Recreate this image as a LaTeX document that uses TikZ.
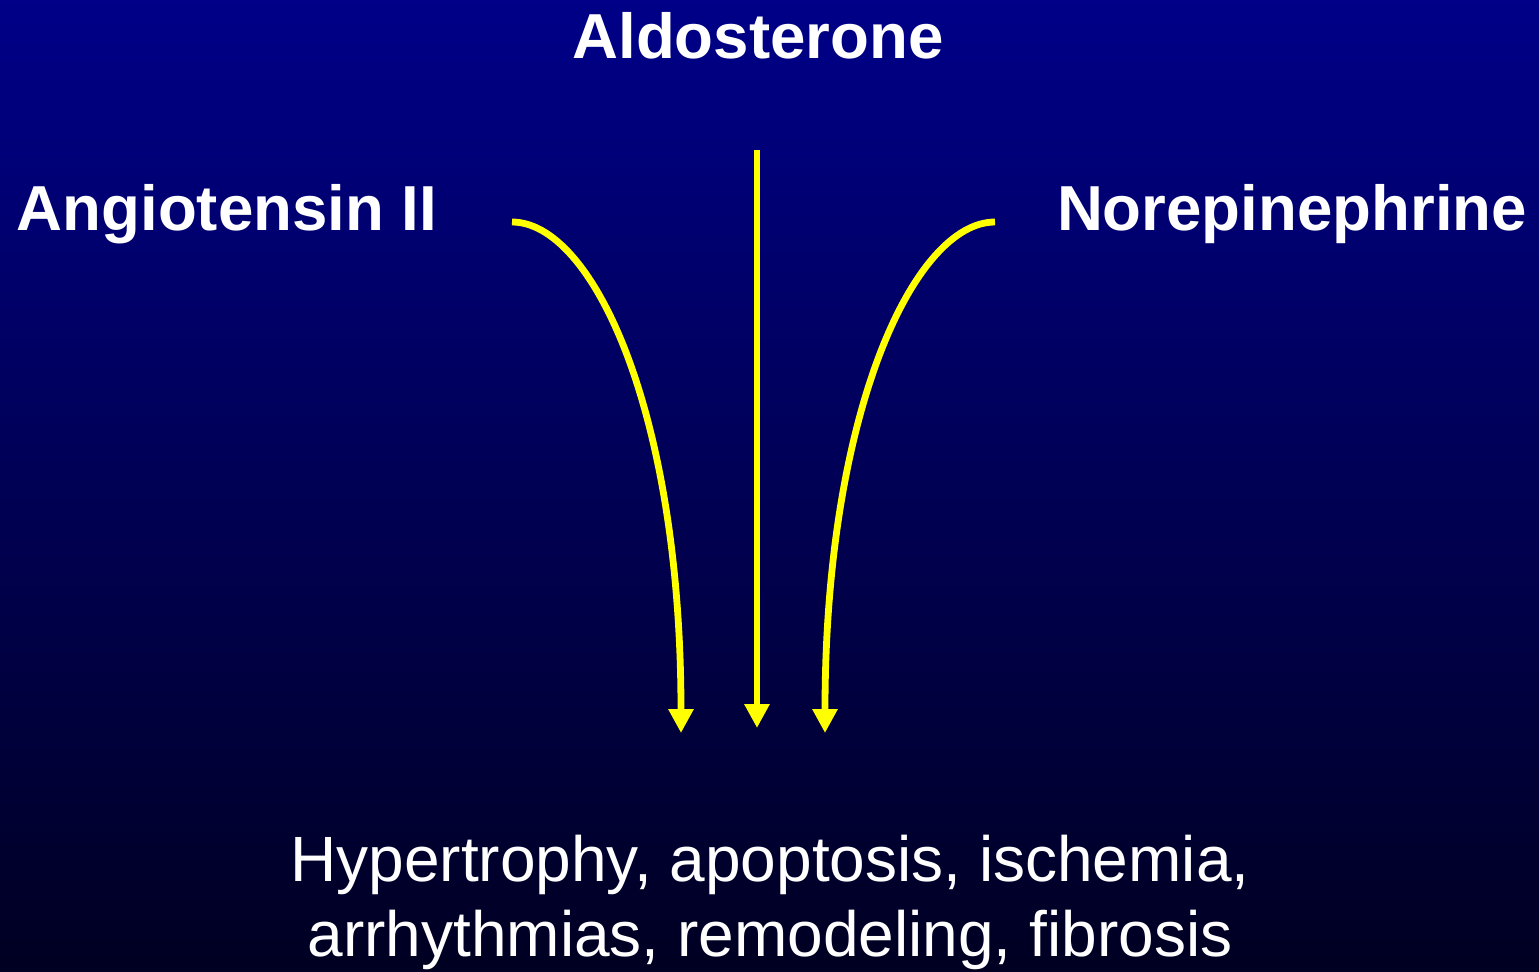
\documentclass[tikz,border=0pt]{standalone}
\usepackage{fontspec}
\setmainfont{Liberation Sans}
\usetikzlibrary{arrows.meta,calc,positioning}
\definecolor{slidetop}{RGB}{0,0,136}
\definecolor{slidebottom}{RGB}{0,0,34}
\definecolor{arrowyellow}{RGB}{255,255,0}
\tikzset{
  hormone/.style={text=white, font=\fontsize{31.8}{37.5}\selectfont\bfseries, anchor=base, inner sep=0pt},
  effect/.style={text=white, font=\fontsize{32}{37.5}\selectfont, align=center, anchor=base, inner sep=0pt},
  flow/.style={-{Triangle[length=12pt, width=12pt]}, draw=arrowyellow, line width=3.4pt}
}

\begin{document}
\begin{tikzpicture}[x=0.5pt, y=-0.5pt]
  % slide background
  \shade[top color=slidetop, bottom color=slidebottom] (0,0) rectangle (1539,971);
  \useasboundingbox (0,0) rectangle (1539,971);

  \node[hormone] (aldo) at (758,58) {Aldosterone};
  \node[hormone] (ang) at (227,230) {Angiotensin II};
  \node[hormone] (norepi) at (1292,230) {Norepinephrine};
  \node[effect, anchor=north] (effects) at (770,835) {Hypertrophy, apoptosis, ischemia,\\arrhythmias, remodeling, fibrosis};

  \coordinate (angstart) at (512,222);
  \coordinate (aldostart) at (757,150);
  \coordinate (norstart) at (995,222);
  \coordinate (angend) at (681,733);
  \coordinate (aldoend) at (757,728);
  \coordinate (norend) at (825,733);

  \draw[flow] (angstart) .. controls (592,222) and (681,410) .. (angend);
  \draw[flow] (aldostart) -- (aldoend);
  \draw[flow] (norstart) .. controls (915,222) and (825,410) .. (norend);
\end{tikzpicture}
\end{document}
